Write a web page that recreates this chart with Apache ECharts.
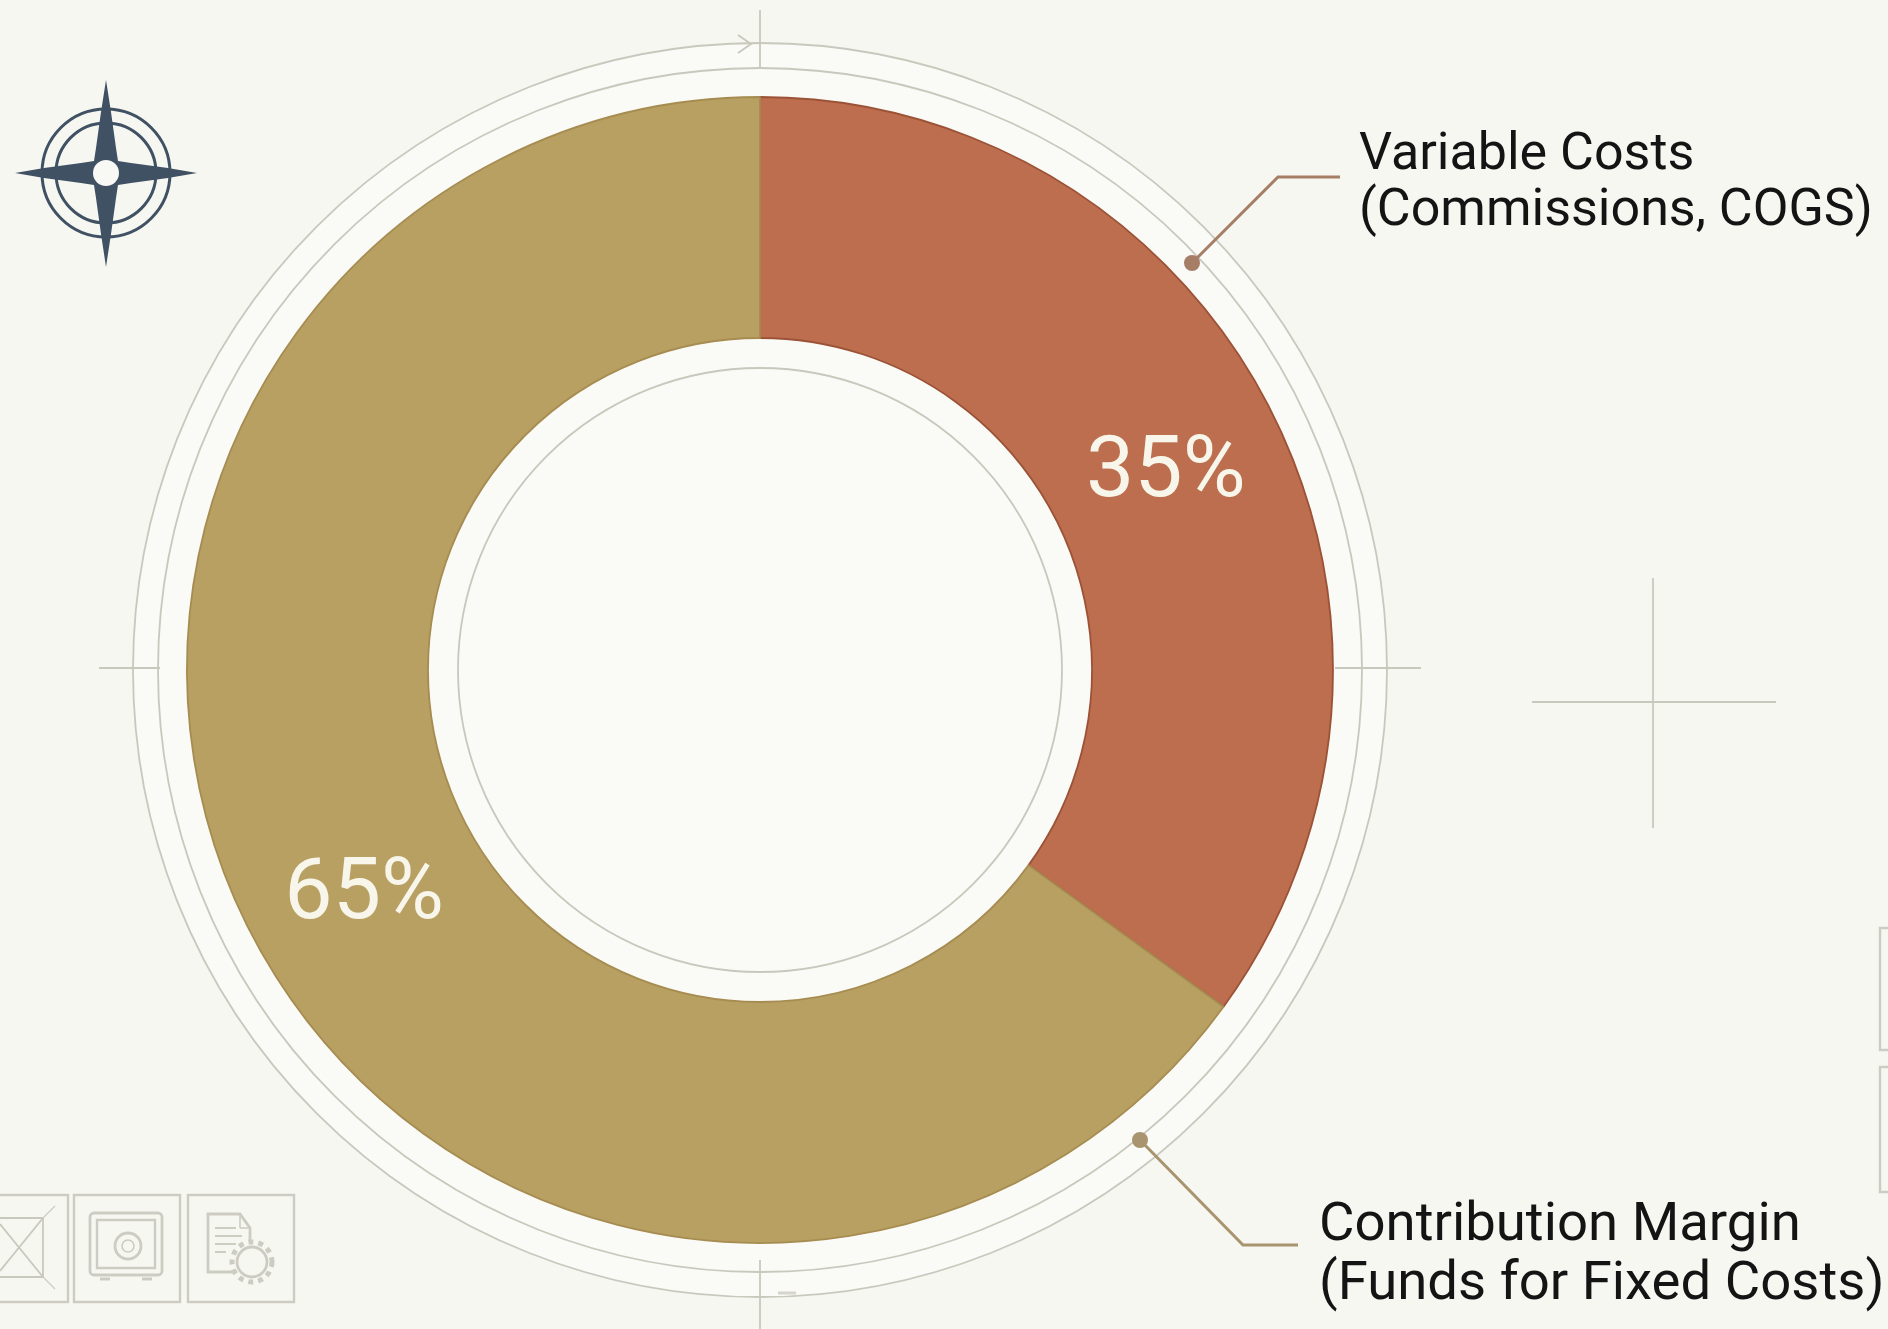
<!DOCTYPE html>
<html>
<head>
<meta charset="utf-8">
<title>Contribution margin split</title>
<script src="https://cdn.jsdelivr.net/npm/echarts@6/dist/echarts.min.js"></script>
<style>
  html, body { margin: 0; padding: 0; background: #f7f7f2; }
  #chart { width: 1888px; height: 1329px; }
</style>
</head>
<body>
<div id="chart"></div>
<script>
// Revenue split shown by the ring
const categories = ['Variable Costs', 'Contribution Margin'];
const shares = [35, 65];
const sublabels = ['(Commissions, COGS)', '(Funds for Fixed Costs)'];
const sliceColors = ['#bc6e4e', '#b89f62'];
const sliceEdges = ['#9c5236', '#a68c50'];
const labelNudges = [[0, 11], [10, 20]];

const CX = 760, CY = 670;
const LINE = '#c9c8bd';
const ICON = '#cdccc2';
const bg = '#f7f7f2';

const ring = (r, extra) => ({
  type: 'circle', silent: true, shape: { cx: CX, cy: CY, r },
  style: Object.assign({ fill: 'none', stroke: LINE, lineWidth: 1.8 }, extra)
});
const seg = (x1, y1, x2, y2, stroke = LINE, lineWidth = 1.8) => ({
  type: 'line', silent: true, shape: { x1, y1, x2, y2 }, style: { stroke, lineWidth }
});
const poly = (points, stroke = LINE, lineWidth = 1.8, fill = 'none') => ({
  type: 'polyline', silent: true, shape: { points }, style: { stroke, lineWidth, fill }
});
const box = (x, y, width, height, stroke = ICON, lineWidth = 2.4, r = 0) => ({
  type: 'rect', silent: true, shape: { x, y, width, height, r }, style: { fill: 'none', stroke, lineWidth }
});
const disc = (cx, cy, r, stroke = ICON, lineWidth = 2.4, fill = 'none', lineDash) => ({
  type: 'circle', silent: true, shape: { cx, cy, r }, style: { fill, stroke, lineWidth, lineDash }
});

// Plate rings, registration marks and arrow ticks around the donut
const plate = [
  ring(627, { fill: '#fafaf6' }),
  ring(602),
  ring(302),
  seg(CX, 10, CX, 68),
  seg(CX, 1260, CX, 1329),
  seg(99, 668, 160, 668),
  seg(1335, 668, 1421, 668),
  poly([[738, 35], [751, 44], [738, 53]]),
  poly([[778, 1293], [796, 1293]], '#d6d5cb', 3),
  seg(1532, 702, 1776, 702),
  seg(1653, 578, 1653, 828)
];

// Compass rose, top left
const navy = '#3f5163';
const compass = [
  disc(106, 173, 64, navy, 3),
  disc(106, 173, 50, navy, 3),
  {
    type: 'polygon', silent: true,
    shape: {
      points: [
        [106, 80], [111, 112], [116, 148], [118, 161],
        [131, 163], [168, 168], [197, 173], [168, 178], [131, 183], [118, 185],
        [116, 198], [111, 234], [106, 267], [101, 234], [96, 198], [94, 185],
        [81, 183], [44, 178], [15, 173], [44, 168], [81, 163], [94, 161],
        [96, 148], [101, 112]
      ]
    },
    style: { fill: navy }
  },
  disc(106, 173, 13, bg, 0, '#f8f8f4')
];

// Faded icon tiles along the bottom-left and the right edge
const tiles = [
  box(-20, 1195, 88, 107),
  seg(0, 1218, 43, 1218), seg(43, 1218, 43, 1277), seg(0, 1277, 43, 1277),
  seg(0, 1224, 43, 1277), seg(0, 1271, 43, 1218),
  seg(43, 1218, 55, 1206, ICON, 1.2), seg(43, 1277, 55, 1289, ICON, 1.2),
  box(74, 1195, 106, 107),
  box(90, 1213, 72, 62, ICON, 2.8, 4),
  box(97, 1220, 58, 48),
  disc(128, 1246, 13, ICON, 2.8),
  disc(128, 1246, 6, ICON, 1.6),
  seg(100, 1279, 110, 1279, ICON, 3), seg(142, 1279, 152, 1279, ICON, 3),
  box(188, 1195, 106, 107),
  poly([[235, 1272], [208, 1272], [208, 1214], [240, 1214], [250, 1228], [250, 1240]], ICON, 2.8),
  seg(240, 1214, 240, 1228, ICON, 1.6), seg(240, 1228, 250, 1228, ICON, 1.6),
  seg(215, 1228, 236, 1228), seg(215, 1236, 242, 1236), seg(215, 1244, 236, 1244), seg(215, 1252, 226, 1252),
  disc(252, 1262, 15, ICON, 2.8, bg),
  disc(252, 1262, 20, ICON, 5, 'none', [5, 5]),
  box(1880, 928, 30, 122),
  box(1880, 1067, 30, 125)
];

// Callouts: dot, elbow leader, two lines of text
const callout = (i, dot, elbow, end, x, y1, y2, color, size) => [
  poly([dot, elbow, end], color, 3),
  disc(dot[0], dot[1], 8, color, 0, color),
  {
    type: 'text', silent: true,
    style: { x, y: y1, text: categories[i], fill: '#141414', font: `400 ${size}px Roboto`, textVerticalAlign: 'bottom' }
  },
  {
    type: 'text', silent: true,
    style: { x, y: y2, text: sublabels[i], fill: '#141414', font: `400 ${size}px Roboto`, textVerticalAlign: 'bottom' }
  }
];
const callouts = [
  ...callout(0, [1192, 263], [1278, 177], [1340, 177], 1359, 182, 238, '#a67d65', 52),
  ...callout(1, [1140, 1140], [1243, 1245], [1298, 1245], 1319, 1254, 1313, '#a8946e', 54.5)
];

const chart = echarts.init(document.getElementById('chart'), null, { renderer: 'canvas' });
chart.setOption({
  animation: false,
  backgroundColor: bg,
  graphic: { elements: [...plate, ...compass, ...tiles, ...callouts] },
  series: [{
    type: 'pie',
    silent: true,
    center: [CX, CY],
    radius: [332, 573],
    startAngle: 90,
    clockwise: true,
    avoidLabelOverlap: false,
    labelLine: { show: false },
    label: {
      show: true,
      position: 'inside',
      formatter: '{c}%',
      color: '#f8f6ea',
      fontFamily: 'Roboto',
      fontWeight: 400,
      fontSize: 86
    },
    data: categories.map((name, i) => ({
      name,
      value: shares[i],
      label: { offset: labelNudges[i] },
      itemStyle: { color: sliceColors[i], borderColor: sliceEdges[i], borderWidth: 1.8 }
    }))
  }]
});
</script>
</body>
</html>
